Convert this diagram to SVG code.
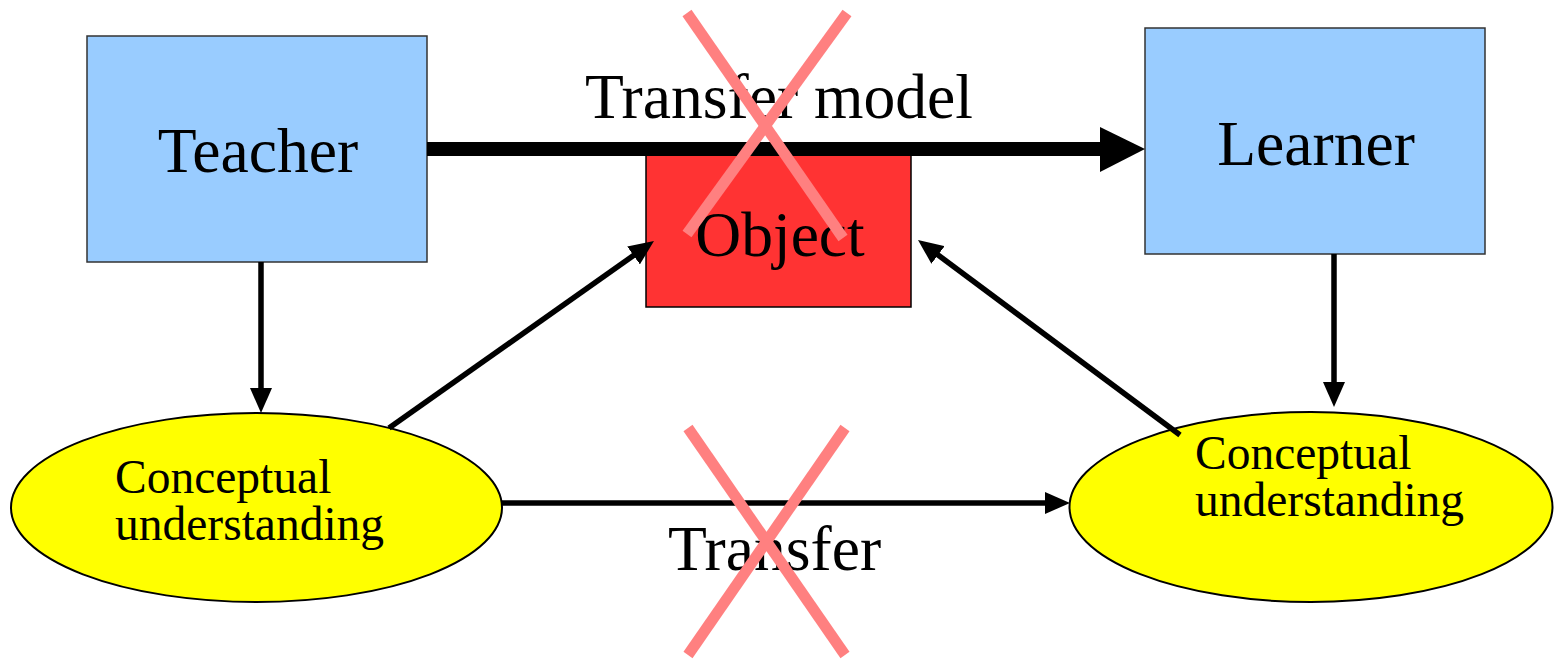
<svg xmlns="http://www.w3.org/2000/svg" width="1554" height="659" viewBox="0 0 1554 659">
<style>
.box{fill:#99ccff;stroke:#333;stroke-width:1.5}
.ell{fill:#ffff00;stroke:#000;stroke-width:2}
.t{font-family:"Liberation Serif","Times New Roman",serif;fill:#000}
.big{font-size:63.6px}
.small{font-size:47.5px}
.con{stroke:#000;stroke-width:5.5;fill:none}
.x{stroke:#ff8080;stroke-width:11;fill:none}
</style>
<defs>
<marker id="arr" viewBox="0 0 25 22" refX="15" refY="11" markerWidth="25" markerHeight="22" markerUnits="userSpaceOnUse" orient="auto">
<path d="M0,0 L25,11 L0,22 z" fill="#000"/>
</marker>
</defs>
<rect width="1554" height="659" fill="#fff"/>
<g id="teacher">
<rect class="box" x="87" y="36" width="340" height="226"/>
<text class="t big" x="258" y="172" text-anchor="middle">Teacher</text>
</g>
<g id="learner">
<rect class="box" x="1145" y="28" width="340" height="226"/>
<text class="t big" x="1316" y="165" text-anchor="middle">Learner</text>
</g>
<g id="object">
<rect x="646" y="155" width="265" height="152" fill="#ff3333" stroke="#000" stroke-width="1.5"/>
<text class="t big" x="780" y="256" text-anchor="middle">Object</text>
</g>
<g id="cu-left">
<ellipse class="ell" cx="256.5" cy="507.5" rx="245.5" ry="94.5"/>
<text class="t small" x="115" y="493">Conceptual</text>
<text class="t small" x="115" y="540">understanding</text>
</g>
<g id="cu-right">
<ellipse class="ell" cx="1311" cy="507" rx="241.5" ry="95"/>
<text class="t small" x="1195" y="469">Conceptual</text>
<text class="t small" x="1195" y="516">understanding</text>
</g>
<g id="connectors">
<line x1="427" y1="149" x2="1105" y2="149" stroke="#000" stroke-width="14"/>
<polygon points="1100,127 1145,149 1100,172" fill="#000"/>
<line class="con" x1="261" y1="262" x2="261" y2="403" marker-end="url(#arr)"/>
<line class="con" x1="1334" y1="254" x2="1334" y2="397" marker-end="url(#arr)"/>
<line class="con" x1="502" y1="503" x2="1060" y2="503" marker-end="url(#arr)"/>
<line class="con" x1="389" y1="428" x2="645.8" y2="246.8" marker-end="url(#arr)"/>
<line class="con" x1="1180" y1="435" x2="926" y2="246" marker-end="url(#arr)"/>
</g>
<g id="labels">
<text class="t big" x="585" y="118">Transfer model</text>
<text class="t big" x="668" y="570">Transfer</text>
</g>
<g id="crosses">
<line class="x" x1="687" y1="13" x2="843" y2="238"/>
<line class="x" x1="847" y1="13" x2="687" y2="234"/>
<line class="x" x1="688" y1="428" x2="845" y2="655"/>
<line class="x" x1="845" y1="428" x2="688" y2="655"/>
</g>
</svg>
